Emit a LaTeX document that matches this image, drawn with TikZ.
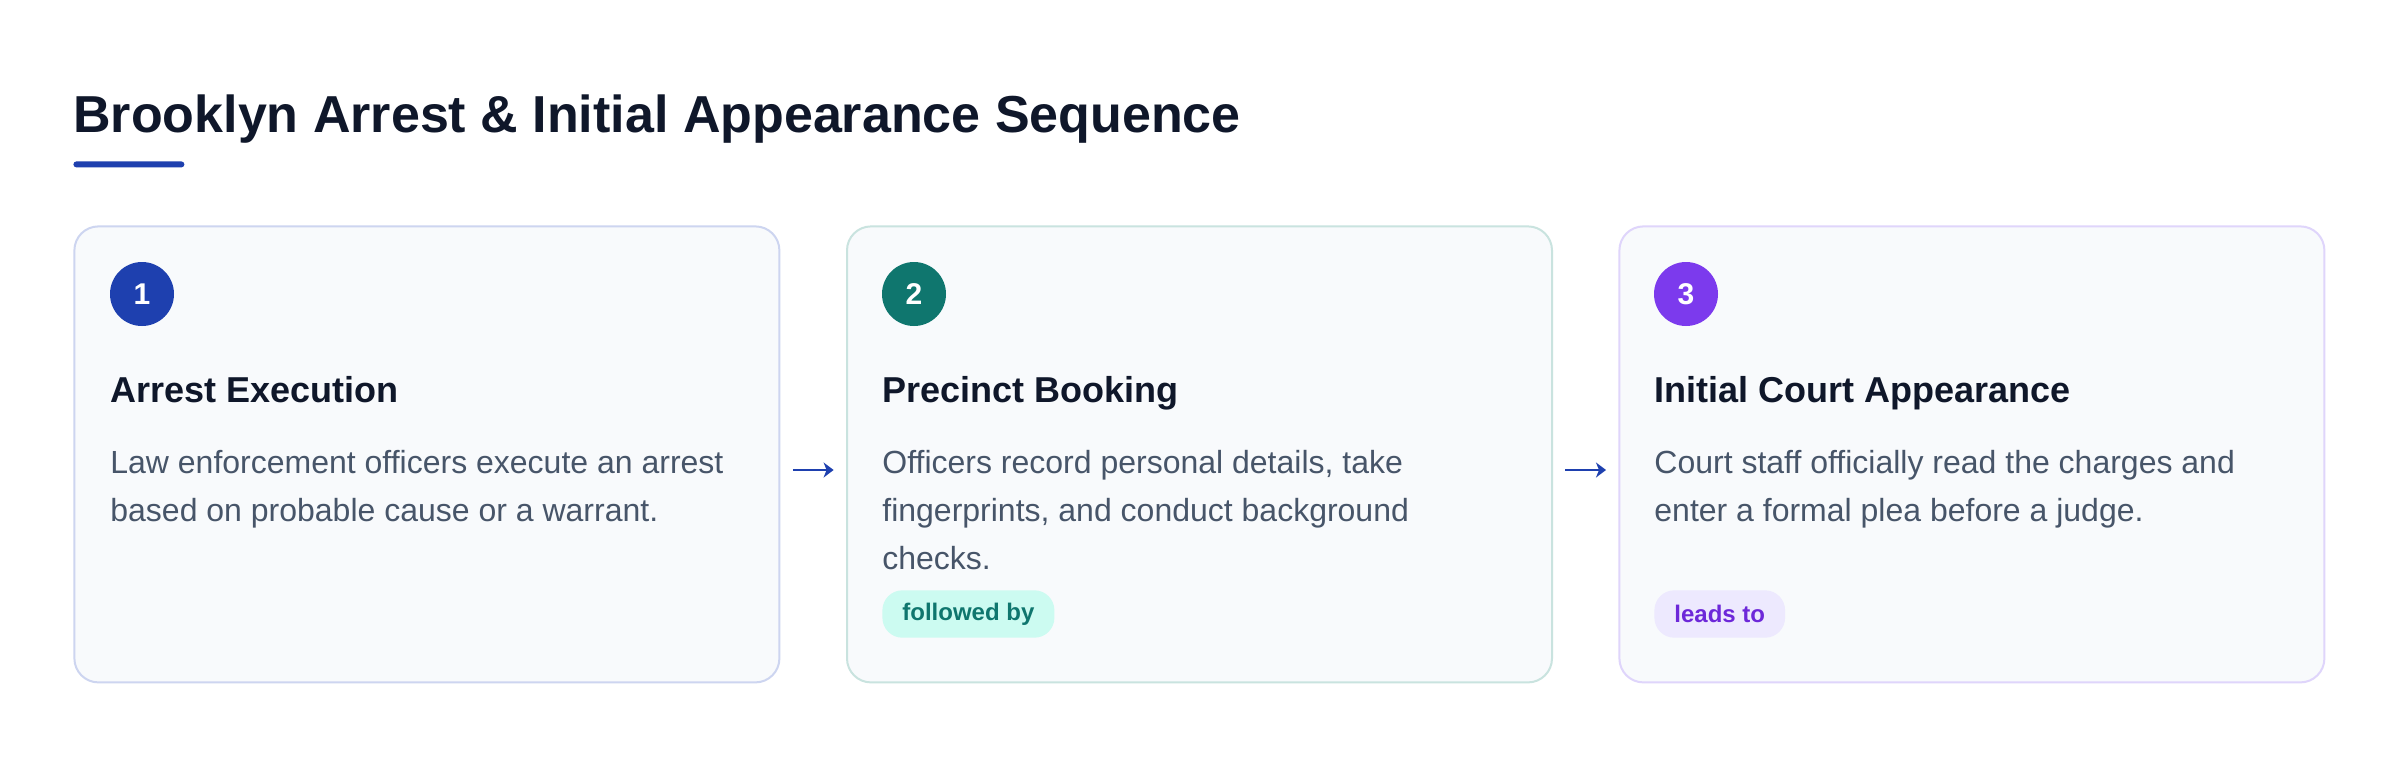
\documentclass[tikz,border=0pt]{standalone}
\usepackage{fontspec}
\setmainfont{Liberation Sans}
\usetikzlibrary{arrows.meta,calc}
\definecolor{titlec}{HTML}{0F172A}
\definecolor{bodyc}{HTML}{475569}
\definecolor{bluec}{HTML}{1E40AF}
\definecolor{tealc}{HTML}{0F766E}
\definecolor{violetc}{HTML}{7C3AED}
\definecolor{cardfill}{HTML}{F8FAFC}
\definecolor{bord1}{HTML}{CDD5F0}
\definecolor{bord2}{HTML}{C9E3DF}
\definecolor{bord3}{HTML}{DFD5FB}
\definecolor{badgetwobg}{HTML}{CCFBF1}
\definecolor{badgethreebg}{HTML}{EDE9FE}
\definecolor{badgethreetx}{HTML}{6D28D9}
\begin{document}
\begin{tikzpicture}[x=1pt,y=-1pt,
 card/.style={draw, line width=1pt, fill=cardfill, rounded corners=12pt, minimum width=352.5pt, minimum height=228pt, anchor=north west, inner sep=0pt},
 numcirc/.style={circle, minimum size=32pt, inner sep=0pt, text=white, font=\fontsize{15}{18}\selectfont\bfseries},
 heading/.style={anchor=base west, inner sep=0pt, text=titlec, font=\fontsize{18}{22}\selectfont\bfseries},
 bodyline/.style={anchor=base west, inner sep=0pt, text=bodyc, font=\fontsize{16}{24}\selectfont},
 badge/.style={anchor=west, rounded corners=10pt, inner xsep=10pt, inner ysep=0pt, minimum height=23.7pt, font=\fontsize{12}{14}\selectfont\bfseries},
 conn/.style={draw=bluec, line width=0.9pt, -{Stealth[length=5pt,width=7.5pt,inset=1.5pt]}}
]
\useasboundingbox (0,0) rectangle (1200,378);
\fill[white] (0,0) rectangle (1200,378);

% title
\node[anchor=base west, inner sep=0pt, text=titlec, font=\fontsize{26}{32}\selectfont\bfseries] (title) at (36.5,66) {Brooklyn Arrest \& Initial Appearance Sequence};
\node[fill=bluec, minimum width=55.5pt, minimum height=3pt, inner sep=0pt, rounded corners=1.5pt, anchor=north west] (bar) at (36.5,80.5) {};

% cards
\node[card, draw=bord1] (c1) at (36.7,112.7) {};
\node[card, draw=bord2] (c2) at (423,112.7) {};
\node[card, draw=bord3] (c3) at (809.2,112.7) {};

% card 1
\node[numcirc, fill=bluec] (n1) at (71,147) {1};
\node[heading] (h1) at (55,201) {Arrest Execution};
\node[bodyline] (b1a) at (55,236.5) {Law enforcement officers execute an arrest};
\node[bodyline] (b1b) at (55,260.5) {based on probable cause or a warrant.};

% card 2
\node[numcirc, fill=tealc] (n2) at (457,147) {2};
\node[heading] (h2) at (441,201) {Precinct Booking};
\node[bodyline] (b2a) at (441,236.5) {Officers record personal details, take};
\node[bodyline] (b2b) at (441,260.5) {fingerprints, and conduct background};
\node[bodyline] (b2c) at (441,284.5) {checks.};
\node[badge, fill=badgetwobg, text=tealc] (bg2) at (441,307) {followed by};

% card 3
\node[numcirc, fill=violetc] (n3) at (843,147) {3};
\node[heading] (h3) at (827,201) {Initial Court Appearance};
\node[bodyline] (b3a) at (827,236.5) {Court staff officially read the charges and};
\node[bodyline] (b3b) at (827,260.5) {enter a formal plea before a judge.};
\node[badge, fill=badgethreebg, text=badgethreetx] (bg3) at (827,307) {leads to};

% connectors
\draw[conn] ($(c1.east)+(6.2,7.8)$) -- ($(c2.west)+(-6.2,7.8)$);
\draw[conn] ($(c2.east)+(6.2,7.8)$) -- ($(c3.west)+(-6.2,7.8)$);
\end{tikzpicture}
\end{document}
